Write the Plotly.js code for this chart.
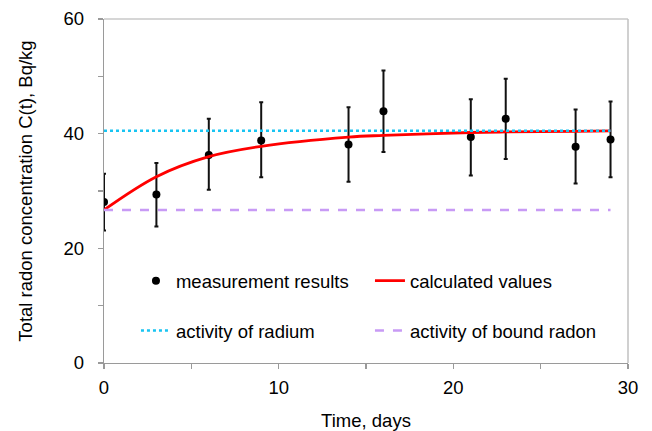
<!DOCTYPE html>
<html>
<head>
<meta charset="utf-8">
<script src="https://cdn.plot.ly/plotly-3.0.1.min.js"></script>
<style>html,body{margin:0;padding:0;background:#fff;}#chart{width:652px;height:431px;}</style>
</head>
<body>
<div id="chart"></div>
<script>
// Measurement data
const days = [0, 3, 6, 9, 14, 16, 21, 23, 27, 29];
const measured = [28.1, 29.4, 36.3, 38.8, 38.1, 43.9, 39.4, 42.6, 37.7, 39.0];
const errPlus = [4.9, 5.5, 6.3, 6.7, 6.5, 7.1, 6.6, 7.0, 6.5, 6.6];
const errMinus = [5.0, 5.6, 6.1, 6.4, 6.5, 7.1, 6.7, 7.0, 6.4, 6.6];
// Calculated curve
const calcDays = [0, 3, 6, 9, 14, 16, 21, 23, 27, 29];
const calcValues = [26.7, 32.5, 36.0, 37.8, 39.4, 39.7, 40.2, 40.3, 40.4, 40.5];
// Reference levels
const levelDays = [0, 29];
const radiumLevel = [40.5, 40.5];
const boundLevel = [26.7, 26.7];
// Ticks
const xTickVals = [0, 5, 10, 15, 20, 25, 30];
const xTickText = ['0', '', '10', '', '20', '', '30'];
const yTickVals = [0, 10, 20, 30, 40, 50, 60];
const yTickText = ['0', '', '20', '', '40', '', '60'];

const FONT = 'Liberation Sans, Arial, sans-serif';
const FS = 18.5;

const traces = [
  {
    x: days, y: measured, type: 'scatter', mode: 'markers',
    name: 'measurement results', legend: 'legend',
    marker: {color: '#000', size: 8},
    error_y: {type: 'data', symmetric: false, array: errPlus, arrayminus: errMinus,
              color: '#111', thickness: 2, width: 2}
  },
  {
    x: calcDays, y: calcValues, type: 'scatter', mode: 'lines',
    name: 'calculated values', legend: 'legend',
    line: {color: '#ff0000', width: 2.8, shape: 'spline', smoothing: 1}
  },
  {
    x: levelDays, y: radiumLevel, type: 'scatter', mode: 'lines',
    name: 'activity of radium', legend: 'legend2',
    line: {color: '#18c4f2', width: 2.5, dash: 'dot'}
  },
  {
    x: levelDays, y: boundLevel, type: 'scatter', mode: 'lines',
    name: 'activity of bound radon', legend: 'legend2',
    line: {color: '#c89af5', width: 2.5, dash: 'dash'}
  }
];

const legendCommon = {
  orientation: 'h', xref: 'paper', yref: 'paper', x: 0.061, xanchor: 'left',
  yanchor: 'middle', bgcolor: 'rgba(0,0,0,0)', borderwidth: 0,
  entrywidth: 189, entrywidthmode: 'pixels',
  font: {family: FONT, size: FS, color: '#000'}
};

const layout = {
  width: 652, height: 431,
  margin: {l: 104, r: 24, t: 19, b: 68},
  paper_bgcolor: '#fff', plot_bgcolor: '#fff',
  font: {family: FONT, size: FS, color: '#000'},
  showlegend: true,
  legend: Object.assign({}, legendCommon, {y: 0.238}),
  legend2: Object.assign({}, legendCommon, {y: 0.093}),
  xaxis: {
    range: [0, 30], tickvals: xTickVals, ticktext: xTickText,
    showgrid: false, zeroline: false, showline: true, linecolor: '#9a9a9a', linewidth: 1.3,
    ticks: 'outside', ticklen: 5, tickcolor: '#9a9a9a', tickwidth: 1.3,
    tickfont: {family: FONT, size: FS, color: '#000'}, ticklabelstandoff: 2,
    title: {text: 'Time, days', font: {family: FONT, size: FS, color: '#000'}, standoff: 19}
  },
  yaxis: {
    range: [0, 60], tickvals: yTickVals, ticktext: yTickText,
    showgrid: false, zeroline: false, showline: true, linecolor: '#9a9a9a', linewidth: 1.3,
    ticks: 'outside', ticklen: 5, tickcolor: '#9a9a9a', tickwidth: 1.3,
    tickfont: {family: FONT, size: FS, color: '#000'}, ticklabelstandoff: 10,
    title: {text: 'Total radon concentration C(t), Bq/kg', font: {family: FONT, size: FS, color: '#000'}, standoff: 26}
  },
  shapes: [
    {type: 'line', xref: 'paper', yref: 'paper', x0: 0, x1: 1, y0: 1, y1: 1, line: {color: '#c8c8c8', width: 1.5}},
    {type: 'line', xref: 'paper', yref: 'paper', x0: 1, x1: 1, y0: 0, y1: 1, line: {color: '#c0c0c0', width: 1.5}}
  ]
};

Plotly.newPlot('chart', traces, layout, {displayModeBar: false, staticPlot: true});
</script>
</body>
</html>
